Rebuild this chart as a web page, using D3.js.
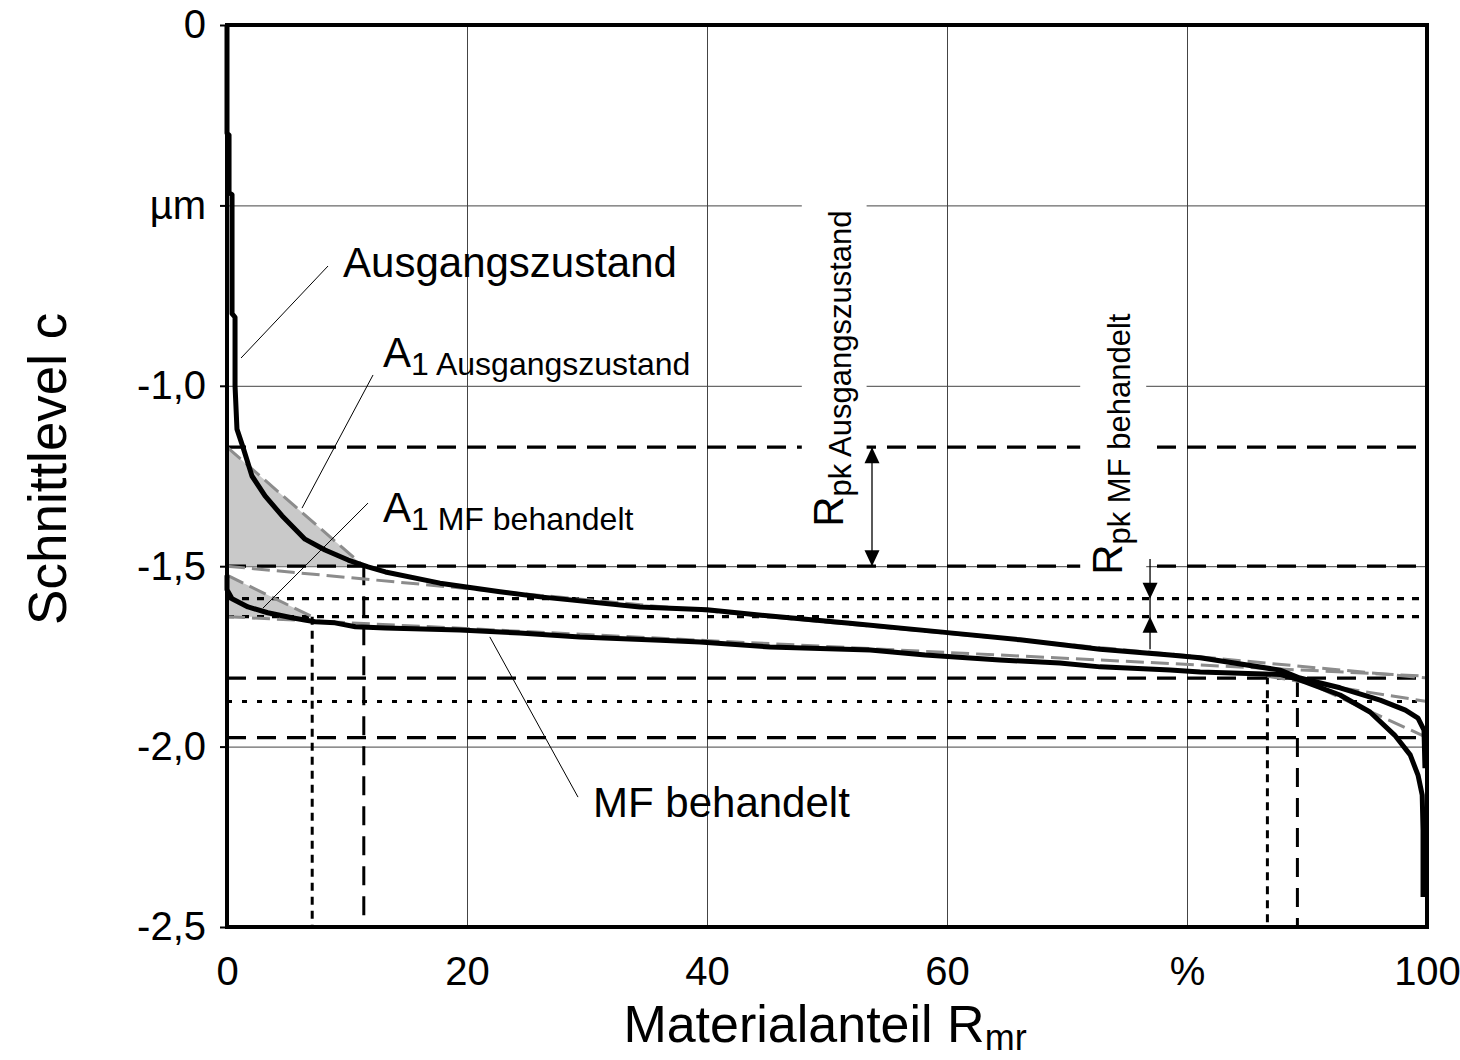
<!DOCTYPE html>
<html>
<head>
<meta charset="utf-8">
<script src="https://cdn.jsdelivr.net/npm/d3@7"></script>
<style>
  body { margin: 0; background: #fff; }
  svg { display: block; font-family: "Liberation Sans", Arial, sans-serif; }
  .grid line { stroke: #444; stroke-width: 1; }
  .grid path { display: none; }
  .axis path { display: none; }
  .axis line { stroke: #000; stroke-width: 2; }
  .axis text { font-size: 40px; fill: #000; }
</style>
</head>
<body>
<div class="abbott"></div>
<script>
// Abbott-Firestone-Kurven (Rmr in %, c in µm)
const ausgangszustand = [
  [0, 0], [0, -0.3], [0.17, -0.305], [0.17, -0.465], [0.42, -0.47], [0.42, -0.8],
  [0.67, -0.81], [0.67, -1.0], [0.83, -1.12], [1.33, -1.17], [2.08, -1.25],
  [3.17, -1.305], [4.58, -1.36], [6.5, -1.425], [8.17, -1.455], [10.1, -1.483],
  [11.75, -1.502], [13.2, -1.516], [17.75, -1.547], [22.75, -1.571], [26.1, -1.585],
  [28.8, -1.594], [34.4, -1.613], [40, -1.621], [45.25, -1.638], [51.9, -1.658],
  [59.4, -1.682], [66.1, -1.704], [72.75, -1.73], [78.6, -1.746], [81.1, -1.754],
  [87.75, -1.788], [89.4, -1.81], [92.75, -1.837], [96.1, -1.871], [98.2, -1.899],
  [99.25, -1.921], [99.75, -1.954], [99.83, -2.06]
];
const mfBehandelt = [
  [0, -1.525], [0, -1.565], [0.42, -1.59], [1.75, -1.613], [3.4, -1.629],
  [5.4, -1.643], [7.33, -1.654], [9.0, -1.657], [10.7, -1.668], [13.2, -1.671],
  [19.4, -1.677], [24.4, -1.685], [29.4, -1.696], [36.1, -1.705], [39.4, -1.71],
  [45.25, -1.724], [53.6, -1.732], [58.2, -1.746], [64.4, -1.76], [69.4, -1.768],
  [72.75, -1.779], [78.6, -1.788], [81.1, -1.793], [87.75, -1.8], [89.4, -1.815],
  [92.75, -1.857], [95.25, -1.904], [97.3, -1.968], [98.6, -2.023], [99.25, -2.079],
  [99.6, -2.134], [99.67, -2.231], [99.67, -2.417]
];

const xTicks = [0, 20, 40, 60, 80, 100];
const xTickLabels = ["0", "20", "40", "60", "%", "100"];
const yTicks = [0, -0.5, -1, -1.5, -2, -2.5];
const yTickLabels = ["0", "µm", "-1,0", "-1,5", "-2,0", "-2,5"];

// Kennwerte
const ausgLevels = [-1.17, -1.5, -1.81, -1.975];
const mfLevels = [-1.59, -1.64, -1.875];
const ausgMr = [11.4, 89.2];
const ausgRk = [-1.5, -1.81];
const mfMr = [7.1, 86.7];
const mfRk = [-1.64, -1.805];
const ausgA1 = [[0, -1.17], [0, -1.5], [11.4, -1.5]];
const mfA1 = [[0, -1.525], [0, -1.64], [7.1, -1.64]];
const grayLines = [
  [[0, -1.17], [11.4, -1.5]],
  [[0, -1.5], [100, -1.81]],
  [[89.2, -1.81], [100, -1.975]],
  [[0, -1.525], [7.1, -1.64]],
  [[0, -1.64], [100, -1.805]],
  [[86.7, -1.805], [100, -1.875]]
];
const leaders = [
  [[8.42, -0.668], [1.17, -0.923]],
  [[12.17, -0.97], [6.25, -1.339]],
  [[11.75, -1.325], [3.0, -1.616]],
  [[21.9, -1.696], [29.25, -2.14]]
];

const margin = { top: 25, right: 33, bottom: 133, left: 227 };
const width = 1460 - margin.left - margin.right;
const height = 1060 - margin.top - margin.bottom;

const root = d3.select(".abbott").append("svg").attr("width", 1460).attr("height", 1060);
const svg = root.append("g").attr("transform", `translate(${margin.left},${margin.top})`);

const x = d3.scaleLinear().domain([0, 100]).range([0, width]);
const y = d3.scaleLinear().domain([-2.5, 0]).range([height, 0]);

svg.append("g").attr("class", "grid")
  .attr("transform", `translate(0,${height})`)
  .call(d3.axisBottom(x).tickValues([20, 40, 60, 80]).tickSize(-height).tickFormat(""));
svg.append("g").attr("class", "grid")
  .call(d3.axisLeft(y).tickValues([-0.5, -1, -1.5, -2]).tickSize(-width).tickFormat(""));

const line = d3.line().x((d) => x(d[0])).y((d) => y(d[1]));

svg.selectAll(".a1").data([ausgA1, mfA1]).enter().append("path")
  .attr("d", (d) => line(d) + "Z").attr("fill", "#c9c9c9");

// horizontale Kennlinien
svg.selectAll(".lvA").data(ausgLevels).enter().append("line")
  .attr("x1", 0).attr("x2", width).attr("y1", (d) => y(d)).attr("y2", (d) => y(d))
  .attr("stroke", "#000").attr("stroke-width", 3.2).attr("stroke-dasharray", "19,11");
svg.selectAll(".lvM").data(mfLevels).enter().append("line")
  .attr("x1", 0).attr("x2", width).attr("y1", (d) => y(d)).attr("y2", (d) => y(d))
  .attr("stroke", "#000").attr("stroke-width", 3.2)
  .attr("stroke-dasharray", (d, i) => (i === 2 ? "5,10" : "7,8"));

// vertikale Kennlinien
svg.selectAll(".mrA").data(ausgMr).enter().append("line")
  .attr("x1", (d) => x(d)).attr("x2", (d) => x(d))
  .attr("y1", (d, i) => y(ausgRk[i])).attr("y2", height)
  .attr("stroke", "#000").attr("stroke-width", 3).attr("stroke-dasharray", "19,11");
svg.selectAll(".mrM").data(mfMr).enter().append("line")
  .attr("x1", (d) => x(d)).attr("x2", (d) => x(d))
  .attr("y1", (d, i) => y(mfRk[i])).attr("y2", height)
  .attr("stroke", "#000").attr("stroke-width", 3).attr("stroke-dasharray", "8,6");

svg.selectAll(".gray").data(grayLines).enter().append("path")
  .attr("d", line).attr("fill", "none")
  .attr("stroke", "#8c8c8c").attr("stroke-width", 3).attr("stroke-dasharray", "18,7");

// weiße Hinterlegung der senkrechten Beschriftungen
const boxes = [[47.9, 53.3, -0.47, -1.4], [71.1, 76.6, -0.776, -1.516]];
svg.selectAll(".box").data(boxes).enter().append("rect")
  .attr("x", (d) => x(d[0])).attr("width", (d) => x(d[1]) - x(d[0]))
  .attr("y", (d) => y(d[2])).attr("height", (d) => y(d[3]) - y(d[2]))
  .attr("fill", "#fff");

svg.selectAll(".leader").data(leaders).enter().append("path")
  .attr("d", line).attr("stroke", "#000").attr("stroke-width", 1);

// Pfeile
function arrow(xv, yTip, dir) {
  const px = x(xv), py = y(yTip);
  return `M${px},${py}L${px - 7.5},${py - dir * 16}L${px + 7.5},${py - dir * 16}Z`;
}
svg.append("line").attr("x1", x(53.75)).attr("x2", x(53.75))
  .attr("y1", y(-1.17)).attr("y2", y(-1.5)).attr("stroke", "#000").attr("stroke-width", 1.3);
svg.append("path").attr("d", arrow(53.75, -1.17, -1));
svg.append("path").attr("d", arrow(53.75, -1.5, 1));
svg.append("line").attr("x1", x(76.92)).attr("x2", x(76.92))
  .attr("y1", y(-1.48)).attr("y2", y(-1.73)).attr("stroke", "#000").attr("stroke-width", 1.3);
svg.append("path").attr("d", arrow(76.92, -1.59, 1));
svg.append("path").attr("d", arrow(76.92, -1.64, -1));

// Kurven
svg.selectAll(".curve").data([ausgangszustand, mfBehandelt]).enter().append("path")
  .attr("d", line).attr("fill", "none").attr("stroke", "#000")
  .attr("stroke-width", 5).attr("stroke-linejoin", "round");

// Beschriftungen
function label(xv, yv, main, sub, rotate) {
  const t = svg.append("text").attr("font-size", 42)
    .attr("transform", `translate(${x(xv)},${y(yv)})${rotate ? " rotate(-90)" : ""}`);
  t.append("tspan").text(main);
  if (sub) t.append("tspan").attr("font-size", rotate ? 31 : 32).attr("dy", 8).text(sub);
}
label(9.67, -0.698, "Ausgangszustand");
label(13.0, -0.948, "A", "1 Ausgangszustand");
label(13.0, -1.377, "A", "1 MF behandelt");
label(30.5, -2.195, "MF behandelt");
label(51.33, -1.391, "R", "pk Ausgangszustand", true);
label(74.58, -1.524, "R", "pk MF behandelt", true);

svg.append("g").attr("class", "axis")
  .call(d3.axisLeft(y).tickValues(yTicks).tickSize(7).tickPadding(14)
    .tickFormat((d, i) => yTickLabels[i]));
svg.append("g").attr("class", "axis")
  .attr("transform", `translate(0,${height})`)
  .call(d3.axisBottom(x).tickValues(xTicks).tickSize(0).tickPadding(30)
    .tickFormat((d, i) => xTickLabels[i]));

svg.append("rect").attr("width", width).attr("height", height)
  .attr("fill", "none").attr("stroke", "#000").attr("stroke-width", 4);

// Achsentitel
const xt = svg.append("text").attr("x", width / 2 - 2).attr("y", height + 115)
  .attr("text-anchor", "middle").attr("font-size", 52);
xt.append("tspan").text("Materialanteil R");
xt.append("tspan").attr("font-size", 36).attr("dy", 8).text("mr");

svg.append("text").attr("transform", `translate(${-margin.left + 66},${y(-1.23)}) rotate(-90)`)
  .attr("text-anchor", "middle").attr("font-size", 53).text("Schnittlevel c");
</script>
</body>
</html>
